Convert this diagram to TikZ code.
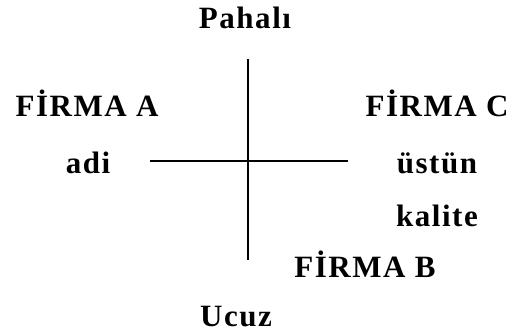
\documentclass[tikz,border=0pt]{standalone}
\usepackage{fontspec}
\setmainfont{Liberation Serif}[LetterSpace=5]
\begin{document}
\begin{tikzpicture}[x=1pt,y=-1pt,
  lbl/.style={anchor=base,inner sep=0pt,font=\fontsize{31}{33}\selectfont\bfseries},
  axis/.style={line width=1.5pt,black}]
\useasboundingbox (0,0) rectangle (522,334);
\node[lbl] (pahali) at (245,29) {Pahalı};
\node[lbl] (firmaA) at (87,117) {FİRMA A};
\node[lbl] (firmaC) at (437,117) {FİRMA C};
\node[lbl] (adi) at (88,173) {adi};
\node[lbl] (ustun) at (437,173) {üstün};
\node[lbl] (kalite) at (437,226) {kalite};
\node[lbl] (firmaB) at (365,277) {FİRMA B};
\node[lbl] (ucuz) at (236,326) {Ucuz};
\coordinate (vtop) at (248,59);
\coordinate (vbot) at (248,260);
\coordinate (hleft) at (150,161);
\coordinate (hright) at (348,161);
\draw[axis] (vtop) -- (vbot);
\draw[axis] (hleft) -- (hright);
\end{tikzpicture}
\end{document}
